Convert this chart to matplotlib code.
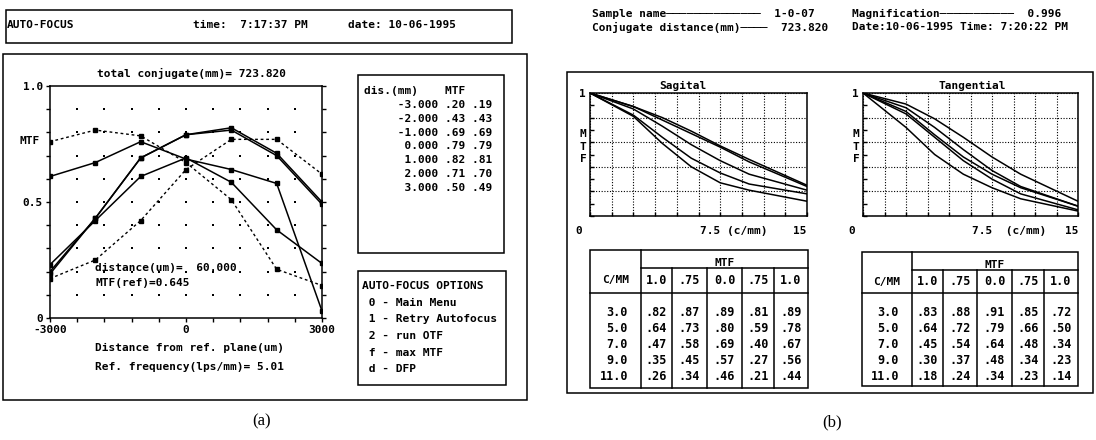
import numpy as np
import matplotlib.pyplot as plt
from matplotlib.patches import Rectangle

plt.rcParams['font.family'] = ['DejaVu Sans Mono']
plt.rcParams['font.weight'] = 'bold'

# ---- panel (a): through-focus MTF ----
dist_um = [-3000, -2000, -1000, 0, 1000, 2000, 3000]
dis_mm = [-3.0, -2.0, -1.0, 0.0, 1.0, 2.0, 3.0]
mtf_s = [0.20, 0.43, 0.69, 0.79, 0.82, 0.71, 0.50]
mtf_t = [0.19, 0.43, 0.69, 0.79, 0.81, 0.70, 0.49]
# other field curves
curve_2 = [0.61, 0.67, 0.76, 0.685, 0.64, 0.58, 0.03]
curve_3 = [0.76, 0.81, 0.785, 0.67, 0.51, 0.21, 0.14]
curve_4 = [0.17, 0.25, 0.42, 0.64, 0.77, 0.77, 0.62]
curve_5 = [0.23, 0.42, 0.61, 0.69, 0.585, 0.38, 0.235]

options = ["AUTO-FOCUS OPTIONS", " 0 - Main Menu", " 1 - Retry Autofocus",
           " 2 - run OTF", " f - max MTF", " d - DFP"]

# ---- panel (b): MTF vs frequency ----
freq = [3.0, 5.0, 7.0, 9.0, 11.0]
fields = ["1.0", ".75", "0.0", ".75", "1.0"]
sag_rows = [[.82, .87, .89, .81, .89],
            [.64, .73, .80, .59, .78],
            [.47, .58, .69, .40, .67],
            [.35, .45, .57, .27, .56],
            [.26, .34, .46, .21, .44]]
tan_rows = [[.83, .88, .91, .85, .72],
            [.64, .72, .79, .66, .50],
            [.45, .54, .64, .48, .34],
            [.30, .37, .48, .34, .23],
            [.18, .24, .34, .23, .14]]
sag_end = [0.18, 0.21, 0.25, 0.12, 0.24]   # value at 15 c/mm
tan_end = [0.05, 0.08, 0.12, 0.08, 0.04]

W, H = 1096, 440
fig = plt.figure(figsize=(W / 100, H / 100), dpi=100)
bg = fig.add_axes([0, 0, 1, 1])
bg.set_xlim(0, W)
bg.set_ylim(H, 0)
bg.axis('off')


def px_axes(l, t, r, b):
    a = fig.add_axes([l / W, 1 - b / H, (r - l) / W, (b - t) / H])
    a.set_facecolor('none')
    for s in a.spines.values():
        s.set_linewidth(1.1)
    return a


def box(x0, y0, x1, y1, lw=1.1):
    bg.add_patch(Rectangle((x0, y0), x1 - x0, y1 - y0, fill=False, lw=lw, ec='k'))


def txt(x, y, s, size=8, ha='left', **kw):
    bg.text(x, y, s, fontsize=size, ha=ha, va='center', **kw)


def fmt(v):
    return f"{v:.2f}".lstrip('0')


# ---------- (a) ----------
box(6, 10, 512, 43)
txt(7, 25, "AUTO-FOCUS")
txt(193, 25, "time:  7:17:37 PM")
txt(348, 25, "date: 10-06-1995")

box(3, 54, 527, 400)
txt(97, 73, "total conjugate(mm)= 723.820")

ax = px_axes(50, 86, 322, 318)
ax.plot(dist_um, mtf_s, color='k', lw=1.1, marker='s', ms=3)
ax.plot(dist_um, mtf_t, color='k', lw=1.1, marker='s', ms=3)
ax.plot(dist_um, curve_2, color='k', lw=1.1, marker='s', ms=3)
ax.plot(dist_um, curve_5, color='k', lw=1.1, marker='s', ms=3)
ax.plot(dist_um, curve_3, color='k', lw=1.0, ls=(0, (2, 2)), marker='s', ms=3)
ax.plot(dist_um, curve_4, color='k', lw=1.0, ls=(0, (2, 2)), marker='s', ms=3)
ax.set_xlim(-3000, 3000)
ax.set_ylim(0, 1)
xt = np.arange(-3000, 3001, 600)
yt = np.round(np.arange(0, 1.01, 0.1), 1)
ax.set_xticks(xt, ['-3000' if v == -3000 else '0' if v == 0 else '3000' if v == 3000 else '' for v in xt])
ax.set_yticks(yt, ['0' if v == 0 else '0.5' if v == 0.5 else '1.0' if v == 1.0 else '' for v in yt])
ax.tick_params(direction='out', length=3, width=1, labelsize=8, pad=2, right=True)
gx, gy = np.meshgrid(xt[1:-1], yt[1:-1])
ax.scatter(gx.ravel(), gy.ravel(), s=1.5, c='k', marker='s', lw=0)
txt(20, 141, "MTF")
txt(95, 268, "distance(um)=  60.000")
txt(95, 283, "MTF(ref)=0.645")
txt(95, 348, "Distance from ref. plane(um)")
txt(95, 367, "Ref. frequency(lps/mm)= 5.01")

box(358, 75, 504, 253)
txt(364, 91, "dis.(mm)    MTF")
for i, d in enumerate(dis_mm):
    txt(364, 105 + i * 13.8, f"{d:>11.3f} {fmt(mtf_s[i])} {fmt(mtf_t[i])}")

box(358, 271, 506, 385)
for i, s in enumerate(options):
    txt(362, 286 + i * 16.7, s, size=8.1)

bg.text(262, 421, "(a)", fontsize=12, ha='center', va='center',
        family='Liberation Serif', weight='normal')

# ---------- (b) ----------
txt(592, 14, "Sample name" + "─" * 14 + "  1-0-07")
txt(592, 27, "Conjugate distance(mm)" + "────" + "  723.820")
txt(852, 14, "Magnification" + "─" * 11 + "  0.996")
txt(852, 27, "Date:10-06-1995 Time: 7:20:22 PM")

box(567, 72, 1093, 393)


def mtf_plot(l, r, rows, ends, title, title_x, mid_label):
    a = px_axes(l, 93, r, 216)
    cols = list(zip(*rows))
    for col, end in zip(cols, ends):
        a.plot([0.0] + freq + [15.0], [1.0] + list(col) + [end], color='k', lw=1.1)
    a.set_xlim(0, 15)
    a.set_ylim(0, 1)
    a.set_xticks(np.arange(0, 15.01, 1.5))
    a.set_yticks(np.arange(0, 1.01, 0.2))
    a.set_yticks(np.arange(0.1, 1.0, 0.2), minor=True)
    a.tick_params(which='both', direction='in', length=3, width=1,
                  labelleft=False, labelbottom=False)
    a.grid(True, which='major', color='k', lw=0.8, ls=(0, (1, 1.5)))
    txt(title_x, 86, title, ha='center')
    txt(l - 8, 94, "1", ha='center')
    for j, ch in enumerate("MTF"):
        txt(l - 7, 134 + j * 12.5, ch, ha='center')
    txt(l - 11, 231, "0", ha='center')
    txt((l + r) / 2 + 1, 231, mid_label)
    txt(r, 231, "15", ha='right')


mtf_plot(590, 807, sag_rows, sag_end, "Sagital", 683, "7.5 (c/mm)")
mtf_plot(863, 1078, tan_rows, tan_end, "Tangential", 972, "7.5  (c/mm)")


def mtf_table(xe, top, hdr, sub, bottom, rows):
    box(xe[0], top, xe[-1], bottom)
    bg.plot([xe[1], xe[-1]], [hdr, hdr], color='k', lw=1.1)
    bg.plot([xe[0], xe[-1]], [sub, sub], color='k', lw=1.1)
    bg.plot([xe[1], xe[1]], [top, bottom], color='k', lw=1.1)
    for x in xe[2:-1]:
        bg.plot([x, x], [hdr, bottom], color='k', lw=1.1)
    txt((xe[1] + xe[-1]) / 2, hdr - 5, "MTF", ha='center')
    txt((xe[0] + xe[1]) / 2, (hdr + sub) / 2, "C/MM", ha='center')
    for j, f in enumerate(fields):
        txt((xe[j + 1] + xe[j + 2]) / 2, (hdr + sub) / 2, f, size=8.5, ha='center')
    for i, f in enumerate(freq):
        y = 312 + i * 16
        txt(xe[1] - 13, y, f"{f:.1f}", size=8.5, ha='right')
        for j, v in enumerate(rows[i]):
            txt((xe[j + 1] + xe[j + 2]) / 2, y, fmt(v), size=8.5, ha='center')


mtf_table([590, 641, 672, 707, 742, 774, 808], 250, 268, 293, 388, sag_rows)
mtf_table([862, 912, 943, 977, 1012, 1044, 1078], 252, 270, 293, 386, tan_rows)

bg.text(832, 422, "(b)", fontsize=12, ha='center', va='center',
        family='Liberation Serif', weight='normal')

fig.savefig("out.png", dpi=100)
